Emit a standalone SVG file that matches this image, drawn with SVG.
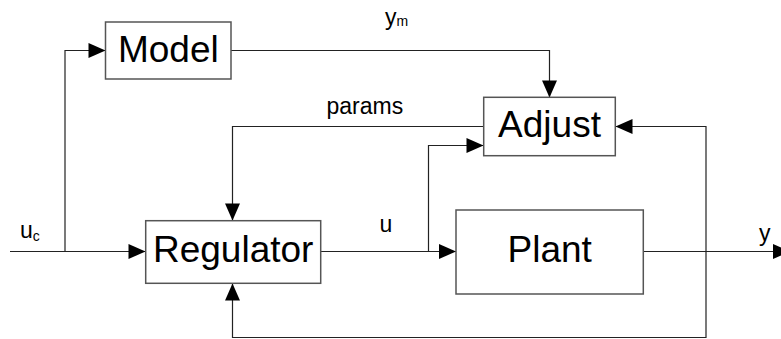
<svg xmlns="http://www.w3.org/2000/svg" width="781" height="339" viewBox="0 0 781 339">
<defs>
<style>
.box{fill:#fff;stroke:#555;stroke-width:1.5}
.big{font-family:"Liberation Sans",Arial,sans-serif;font-size:37px;fill:#000;text-anchor:middle}
.lbl{font-family:"Liberation Sans",Arial,sans-serif;font-size:23px;fill:#000}
.sub{font-size:14px}
.wire{fill:none;stroke:#222;stroke-width:1.2;marker-end:url(#arr)}
</style>
<marker id="arr" markerUnits="userSpaceOnUse" markerWidth="17" markerHeight="15" refX="17" refY="7.5" orient="auto" overflow="visible">
<path d="M0,0 L17,7.5 L0,15 Z" fill="#000"/>
</marker>
</defs>
<rect width="781" height="339" fill="#fff"/>
<g id="connectors">
<path class="wire" d="M10,251.5 H145.5"/>
<path class="wire" d="M65,251.5 V50.5 H105.5"/>
<path class="wire" d="M231,50.5 H549.5 V97.5"/>
<path class="wire" d="M483.5,126.5 H232.5 V220.5"/>
<path class="wire" d="M320.5,251.5 H456"/>
<path class="wire" d="M428.5,251.5 V145.5 H483.5"/>
<path class="wire" d="M643.5,251.5 H790"/>
<path class="wire" d="M706,251.5 V126.5 H615.5"/>
<path class="wire" d="M706,251.5 V337.5 H232.5 V283.5"/>
</g>
<g id="model">
<rect class="box" x="105.5" y="22" width="125.5" height="57"/>
<text class="big" x="168.3" y="61.7">Model</text>
</g>
<g id="adjust">
<rect class="box" x="483.7" y="97.3" width="131.6" height="58.4"/>
<text class="big" x="549.5" y="137">Adjust</text>
</g>
<g id="regulator">
<rect class="box" x="145.7" y="220.7" width="175" height="62.6"/>
<text class="big" x="233.2" y="261.7">Regulator</text>
</g>
<g id="plant">
<rect class="box" x="456" y="210" width="187.3" height="84"/>
<text class="big" x="549.7" y="262.3">Plant</text>
</g>
<g id="labels">
<text class="lbl" x="385" y="25">y<tspan class="sub" dy="0.7">m</tspan></text>
<text class="lbl" x="326.5" y="114">params</text>
<text class="lbl" x="20" y="238">u<tspan class="sub" dy="2.5">c</tspan></text>
<text class="lbl" x="379.5" y="231.7">u</text>
<text class="lbl" x="759" y="241">y</text>
</g>
</svg>
